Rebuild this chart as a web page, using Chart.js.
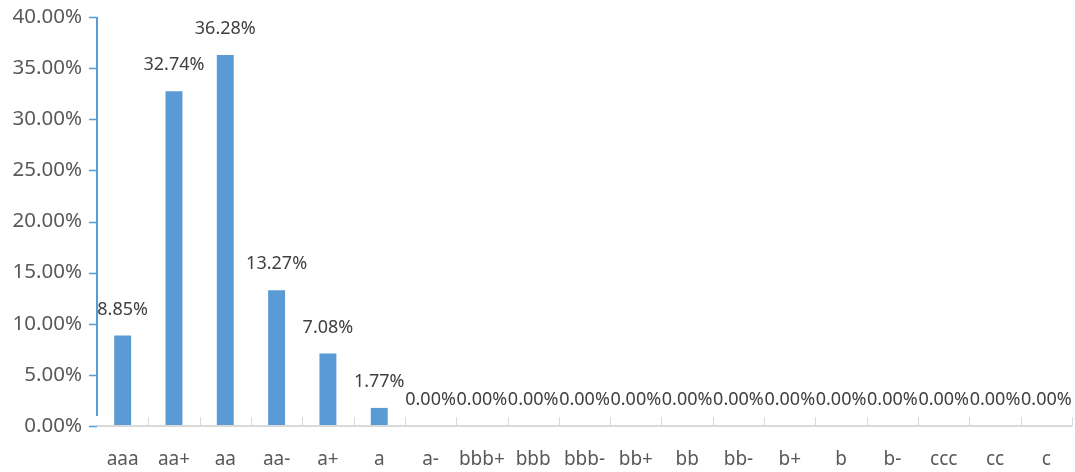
<!DOCTYPE html>
<html>
<head>
<meta charset="utf-8">
<script src="https://cdn.jsdelivr.net/npm/chart.js@4.4.1/dist/chart.umd.min.js"></script>
<style>
  html, body { margin: 0; padding: 0; background: #ffffff; }
  #wrap { width: 1075px; height: 472px; position: relative; }
</style>
</head>
<body>
<div id="wrap"><canvas id="chart"></canvas></div>
<script>
// Datos del gráfico
const categories = ['aaa', 'aa+', 'aa', 'aa-', 'a+', 'a', 'a-', 'bbb+', 'bbb', 'bbb-', 'bb+', 'bb', 'bb-', 'b+', 'b', 'b-', 'ccc', 'cc', 'c'];
const shares = [8.85, 32.74, 36.28, 13.27, 7.08, 1.77, 0, 0, 0, 0, 0, 0, 0, 0, 0, 0, 0, 0, 0];
const yTicks = [0, 5, 10, 15, 20, 25, 30, 35, 40];

const FONT = '"Noto Sans", "Open Sans", sans-serif';
const BLUE = '#5b9bd5';

// Ejes dibujados a mano: eje Y azul, eje X gris con marcas hacia arriba
const axisPlugin = {
    id: 'axisLines',
    afterDraw(chart) {
        const ctx = chart.ctx;
        const area = chart.chartArea;
        const x = chart.scales.x;
        const y = chart.scales.y;
        ctx.save();
        // eje X
        ctx.strokeStyle = '#d9d9d9';
        ctx.lineWidth = 2;
        ctx.beginPath();
        ctx.moveTo(area.left, area.bottom);
        ctx.lineTo(area.right, area.bottom);
        ctx.stroke();
        ctx.lineWidth = 1;
        const step = x.getPixelForValue(1) - x.getPixelForValue(0);
        for (let i = 1; i <= categories.length; i++) {
            const px = Math.round(x.getPixelForValue(i) - step / 2) + 0.5;
            ctx.beginPath();
            ctx.moveTo(px, area.bottom);
            ctx.lineTo(px, area.bottom - 9);
            ctx.stroke();
        }
        // eje Y
        ctx.strokeStyle = BLUE;
        ctx.lineWidth = 2;
        ctx.beginPath();
        ctx.moveTo(area.left, area.top);
        ctx.lineTo(area.left, area.bottom - 10);
        ctx.stroke();
        yTicks.forEach(v => {
            const py = Math.round(y.getPixelForValue(v)) + 0.5;
            ctx.lineWidth = 1.5;
            ctx.beginPath();
            ctx.moveTo(area.left - 8, py);
            ctx.lineTo(area.left, py);
            ctx.stroke();
        });
        ctx.restore();
    }
};

// Etiquetas de valor sobre las barras
const labelPlugin = {
    id: 'valueLabels',
    afterDatasetsDraw(chart) {
        const ctx = chart.ctx;
        const meta = chart.getDatasetMeta(0);
        ctx.save();
        ctx.font = '18px ' + FONT;
        ctx.fillStyle = '#404040';
        ctx.textAlign = 'center';
        ctx.textBaseline = 'middle';
        meta.data.forEach((bar, i) => {
            ctx.fillText(shares[i].toFixed(2) + '%', bar.x, bar.y - 26);
        });
        ctx.restore();
    }
};

new Chart(document.getElementById('chart'), {
    type: 'bar',
    data: {
        labels: categories,
        datasets: [{
            data: shares,
            backgroundColor: BLUE,
            borderWidth: 0,
            barPercentage: 0.33,
            categoryPercentage: 1
        }]
    },
    options: {
        responsive: true,
        maintainAspectRatio: false,
        animation: false,
        events: [],
        layout: { padding: { top: 17, right: 3, left: 0, bottom: 0 } },
        plugins: {
            legend: { display: false },
            tooltip: { enabled: false }
        },
        scales: {
            x: {
                grid: { display: false },
                border: { display: false },
                ticks: {
                    color: '#595959',
                    font: { family: FONT, size: 19 },
                    padding: 14,
                    maxRotation: 0,
                    autoSkip: false
                },
                afterFit(scale) { scale.height = 46; }
            },
            y: {
                min: 0,
                max: 40,
                grid: { display: false },
                border: { display: false },
                afterBuildTicks(scale) { scale.ticks = yTicks.map(v => ({ value: v })); },
                ticks: {
                    color: '#595959',
                    font: { family: FONT, size: 20.5 },
                    padding: 7,
                    callback: v => v.toFixed(2) + '%'
                },
                afterFit(scale) {
                    scale.width = 97;
                    scale.paddingTop = 0;
                    scale.paddingBottom = 0;
                }
            }
        }
    },
    plugins: [axisPlugin, labelPlugin]
});
</script>
</body>
</html>
